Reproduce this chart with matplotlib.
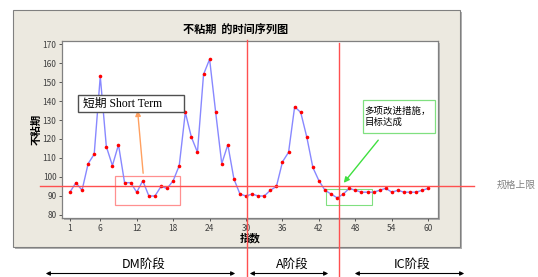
import matplotlib.pyplot as plt
from matplotlib.patches import Rectangle, FancyArrowPatch

plt.rcParams['font.family'] = ['Noto Sans CJK SC', 'DejaVu Sans']

# data
idx = list(range(1, 61))
vals = [92, 97, 93, 107, 112, 153, 116, 106, 117, 97,
        97, 92, 98, 90, 90, 95, 94, 98, 106, 134,
        121, 113, 154, 162, 134, 107, 117, 99, 91, 90,
        91, 90, 90, 93, 95, 108, 113, 137, 134, 121,
        105, 98, 93, 91, 89, 91, 94, 93, 92, 92,
        92, 93, 94, 92, 93, 92, 92, 92, 93, 94]
spec = 95.5
xticks = [1, 6, 12, 18, 24, 30, 36, 42, 48, 54, 60]
yticks = [80, 90, 100, 110, 120, 130, 140, 150, 160, 170]
phases = ['DM阶段', 'A阶段', 'IC阶段']

W, H = 538, 277
fig = plt.figure(figsize=(W / 100, H / 100), dpi=100)
fig.patch.set_facecolor('white')

def fx(px):
    return px / W

def fy(py):
    return 1 - py / H

# minitab style grey panel
fig.patches.append(Rectangle((fx(15), fy(249)), fx(447), (249 - 12) / H,
                             transform=fig.transFigure, fc='#b0b0b0', ec='none', zorder=-5))
fig.patches.append(Rectangle((fx(13), fy(247)), fx(447), (247 - 10) / H,
                             transform=fig.transFigure, fc='#ece9e0', ec='#808080', lw=0.8, zorder=-4))
fig.patches.append(Rectangle((fx(64), fy(220)), fx(376), (218 - 41) / H,
                             transform=fig.transFigure, fc='#b0b0b0', ec='none', zorder=-3))

ax = fig.add_axes([fx(62), fy(218), fx(438 - 62), (218 - 41) / H])
ax.set_facecolor('white')
ax.plot(idx, vals, color='#8888ff', lw=1.0, zorder=2)
ax.plot(idx, vals, 'o', color='red', ms=2.6, mec='none', zorder=3)
ax.set_xlim(-0.3, 61.6)
ax.set_ylim(78.4, 171.6)
ax.set_xticks(xticks)
ax.set_yticks(yticks)
ax.tick_params(labelsize=6, colors='#404040', length=2, width=0.6, pad=2)
for s in ax.spines.values():
    s.set_color('#808080')
    s.set_linewidth(0.9)
ax.set_xlabel('指数', fontsize=7.5, fontweight='bold', labelpad=0)
ax.set_ylabel('不粘期', fontsize=7.5, fontweight='bold', labelpad=1)
fig.text(fx(236), fy(29), '不粘期  的时间序列图', fontsize=8, fontweight='bold',
         ha='center', va='center')

# red annotation box and orange arrow
ax.add_patch(Rectangle((8.4, 85.3), 10.7, 15.2, fc='none', ec='#ff9090', lw=0.9, zorder=1))
ax.annotate('', xy=(12.1, 136.5), xytext=(13.1, 100.5),
            arrowprops=dict(arrowstyle='-|>', color='#ffa060', lw=1.0, mutation_scale=8))
fig.patches.append(Rectangle((fx(78), fy(112)), fx(106), 17 / H, transform=fig.transFigure,
                             fc='white', ec='#505050', lw=1.0, zorder=4))
fig.text(fx(83), fy(103.5), '短期 Short Term', fontsize=8.5, va='center', ha='left',
         family=['Liberation Serif', 'Noto Sans CJK SC'], zorder=5)

# green annotation
ax.add_patch(Rectangle((43.2, 85.3), 7.5, 8.4, fc='none', ec='#80e080', lw=0.8, zorder=1))
fig.patches.append(Rectangle((fx(363), fy(133)), fx(72), 33 / H, transform=fig.transFigure,
                             fc='white', ec='#80e080', lw=0.9, zorder=4))
fig.text(fx(364), fy(117), '多项改进措施，\n目标达成', fontsize=6.8, va='center', ha='left',
         linespacing=1.15, zorder=5)
fig.patches.append(FancyArrowPatch((fx(380), fy(138)), (fx(342), fy(185)),
                                   transform=fig.transFigure, arrowstyle='-|>',
                                   color='#40e040', lw=1.0, mutation_scale=8))

# spec limit and phase separators
fig.add_artist(plt.Line2D([fx(40), fx(474)], [fy(185.5), fy(185.5)],
                          color='#ff5050', lw=1.0, transform=fig.transFigure))
fig.add_artist(plt.Line2D([fx(246.5), fx(246.5)], [fy(40), 0],
                          color='#ff5050', lw=1.0, transform=fig.transFigure))
fig.add_artist(plt.Line2D([fx(338.5), fx(338.5)], [fy(43), 0],
                          color='#ff5050', lw=1.0, transform=fig.transFigure))
fig.text(fx(497), fy(185), '规格上限', fontsize=7, color='#808080', va='center', ha='left')

# phase arrows
spans = [(43, 238), (247, 331), (352, 467)]
for name, (a, b) in zip(phases, spans):
    fig.patches.append(FancyArrowPatch((fx(a), fy(273.5)), (fx(b), fy(273.5)),
                                       transform=fig.transFigure, arrowstyle='<|-|>',
                                       color='black', lw=0.8, mutation_scale=6))
    fig.text(fx((a + b) / 2 + 3), fy(264), name, fontsize=9, ha='center', va='center')

fig.savefig('out.png', dpi=100)
